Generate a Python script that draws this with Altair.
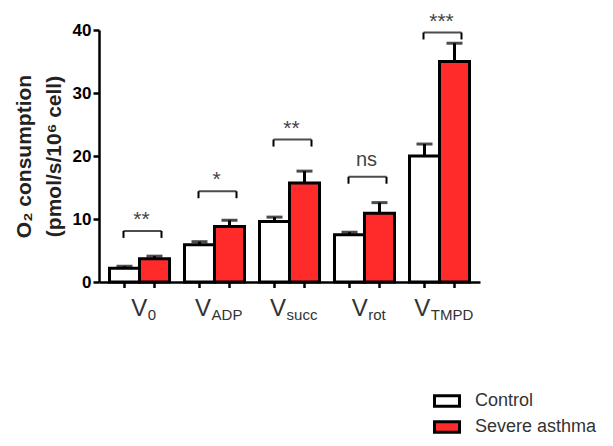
import altair as alt
import pandas as pd

groups = ["V0", "VADP", "Vsucc", "Vrot", "VTMPD"]
subs = ["0", "ADP", "succ", "rot", "TMPD"]
series = ["Control", "Severe asthma"]
control_mean = [2.2, 5.9, 9.6, 7.5, 20.0]
control_err = [0.3, 0.5, 0.7, 0.4, 1.9]
severe_mean = [3.7, 8.8, 15.7, 10.9, 35.0]
severe_err = [0.4, 1.0, 1.9, 1.7, 2.9]
sig_labels = ["**", "*", "**", "ns", "***"]
bracket_level = [8.1, 14.4, 22.6, 16.7, 39.6]
leg_len = 1.1

FONT = "Liberation Sans"

rows = []
for i, g in enumerate(groups):
    rows.append({"group": g, "series": series[0], "mean": control_mean[i], "top": control_mean[i] + control_err[i]})
    rows.append({"group": g, "series": series[1], "mean": severe_mean[i], "top": severe_mean[i] + severe_err[i]})
bars_df = pd.DataFrame(rows)

sig_df = pd.DataFrame({
    "group": groups,
    "sig": sig_labels,
    "level": bracket_level,
    "leg": [b - leg_len for b in bracket_level],
})

x_scale = alt.Scale(domain=groups, paddingInner=0.2, paddingOuter=0.14)
x_axis = alt.Axis(labels=False, ticks=False, title=None, domainColor="black", domainWidth=2.5)
y_scale = alt.Scale(domain=[0, 40], nice=False)
y_axis = alt.Axis(values=[0, 10, 20, 30, 40], title=["O₂ consumption", "(pmol/s/10⁶ cell)"], grid=False)

X = lambda: alt.X("group:N", sort=groups, scale=x_scale, axis=x_axis)
XO = lambda: alt.XOffset("series:N", sort=series)

def Y(field=None, datum=None):
    if datum is not None:
        return alt.Y(datum=datum, type="quantitative", scale=y_scale, axis=y_axis)
    return alt.Y(field, type="quantitative", scale=y_scale, axis=y_axis)

base = alt.Chart(bars_df)

bars = base.mark_bar(stroke="black", strokeWidth=3).encode(
    x=X(), xOffset=XO(), y=Y("mean"),
    fill=alt.Fill("series:N", sort=series,
                  scale=alt.Scale(domain=series, range=["white", "#FF2A2A"]),
                  legend=alt.Legend(title=None, orient="none", legendX=334, legendY=357,
                                    symbolType="M-1,-0.42H1V0.42H-1Z", symbolSize=625,
                                    symbolStrokeColor="black", symbolStrokeWidth=3,
                                    labelFontSize=18, labelFont=FONT, labelColor="#333",
                                    labelOffset=14, rowPadding=0, padding=0)),
)

err = base.mark_rule(color="black", strokeWidth=3).encode(
    x=X(), xOffset=XO(), y=Y("mean"), y2="top")
caps = base.mark_tick(orient="horizontal", size=16, thickness=3, color="black").encode(
    x=X(), xOffset=XO(), y=Y("top"))
xticks = base.mark_rule(color="black", strokeWidth=2.5).encode(
    x=X(), xOffset=XO(), y=Y(datum=0), y2=alt.Y2(datum=-0.95))

sig = alt.Chart(sig_df)
br_h = sig.mark_tick(orient="horizontal", size=38, thickness=2, color="black", xOffset=3).encode(
    x=X(), y=Y("level"))
br_l = sig.mark_rule(color="black", strokeWidth=2, xOffset=-16).encode(
    x=X(), y=Y("level"), y2="leg")
br_r = sig.mark_rule(color="black", strokeWidth=2, xOffset=22).encode(
    x=X(), y=Y("level"), y2="leg")
stars = sig.transform_filter(alt.datum.sig != "ns").mark_text(
    fontSize=21, font=FONT, color="#444", dy=-5, dx=2, baseline="alphabetic").encode(
    x=X(), y=Y("level"), text="sig")
ns = sig.transform_filter(alt.datum.sig == "ns").mark_text(
    fontSize=20, font=FONT, color="#444", dy=-11, dx=2, baseline="alphabetic").encode(
    x=X(), y=Y("level"), text="sig")

# x labels: V with subscript
cw = {"0": .556, "A": .667, "D": .722, "P": .667, "s": .5, "u": .556, "c": .5,
      "r": .333, "o": .556, "t": .278, "T": .611, "M": .833}
vsize, ssize, shift = 24, 15, 4
wV = 0.667 * vsize
label_layers = []
for g, s in zip(groups, subs):
    ws = sum(cw[ch] for ch in s) * ssize
    d = shift + (wV - ws) / 2
    ldf = pd.DataFrame({"group": [g], "v": ["V"], "sub": [s]})
    label_layers.append(alt.Chart(ldf).mark_text(
        align="right", baseline="alphabetic", fontSize=vsize, font=FONT, color="#333", dx=d, dy=34
    ).encode(x=X(), y=Y(datum=0), text="v"))
    label_layers.append(alt.Chart(ldf).mark_text(
        align="left", baseline="alphabetic", fontSize=ssize, font=FONT, color="#333", dx=d + 0.5, dy=38
    ).encode(x=X(), y=Y(datum=0), text="sub"))

chart = alt.layer(bars, err, caps, xticks, br_h, br_l, br_r, stars, ns, *label_layers).properties(
    width=381, height=252,
    autosize=alt.AutoSizeParams(type="none"),
    padding={"left": 91, "top": 22, "right": 125, "bottom": 156},
    background="white",
).configure_view(stroke=None).configure_axisY(
    domainColor="black", domainWidth=2.5, tickColor="black", tickWidth=2.5, tickSize=6,
    labelFont=FONT, labelFontSize=17, labelFontWeight="bold", labelColor="black", labelPadding=2,
    titleFont=FONT, titleFontSize=21, titleFontWeight="bold", titleColor="#222",
    titlePadding=8, titleLineHeight=30,
)

chart.save("out.html", embed_options={"renderer": "svg", "actions": False})
